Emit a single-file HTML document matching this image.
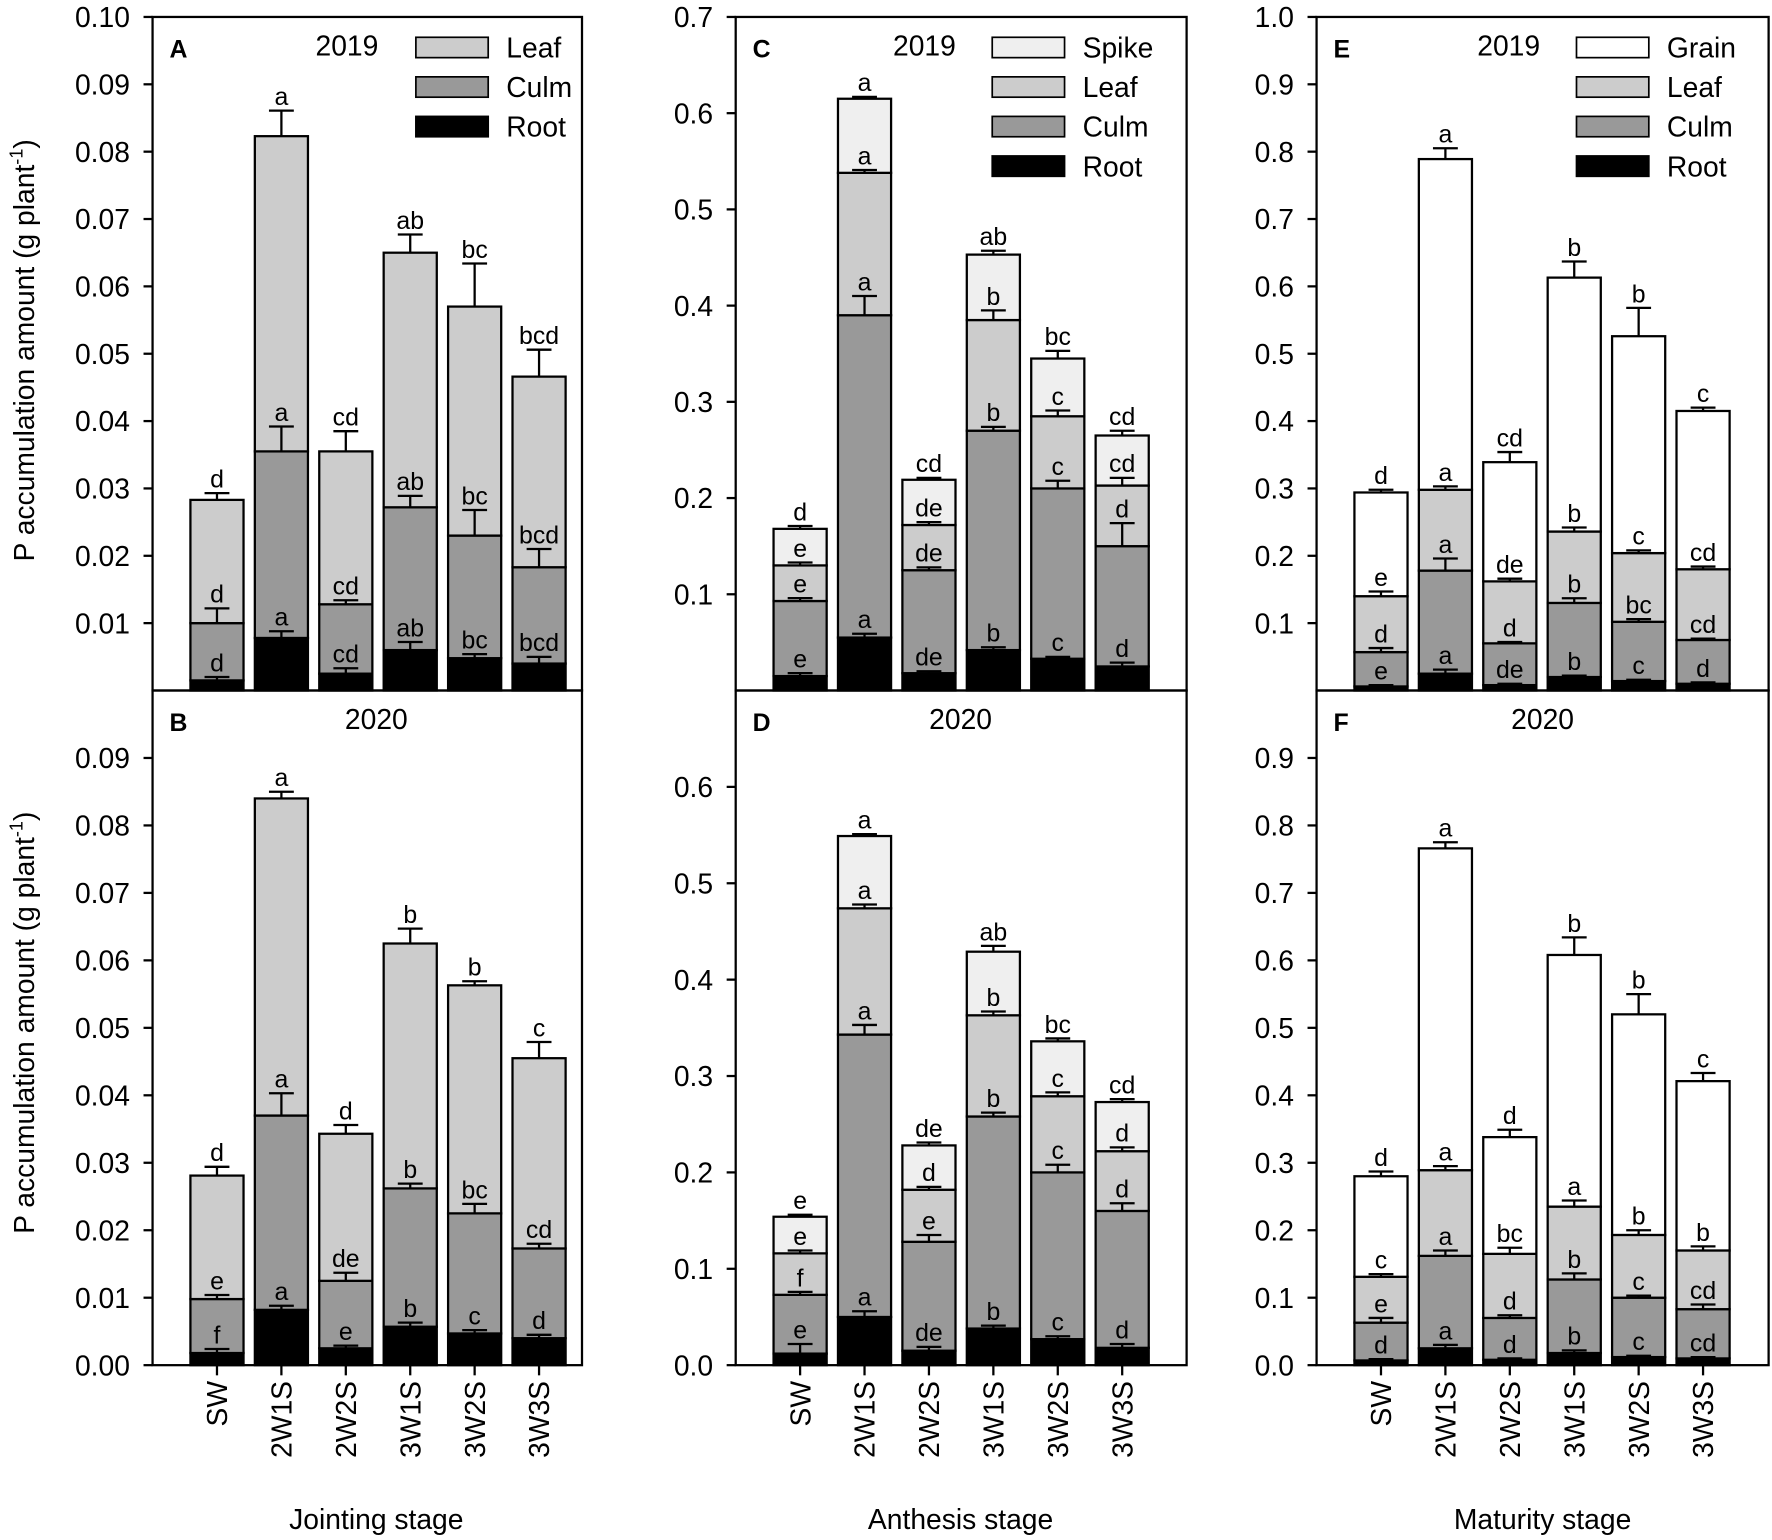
<!DOCTYPE html>
<html><head><meta charset="utf-8"><style>html,body{margin:0;padding:0;background:#fff}svg{display:block}text{font-family:"Liberation Sans",Arial,sans-serif}</style></head>
<body>
<svg id="fig" width="1772" height="1540" viewBox="0 0 1568 1362.7" xmlns="http://www.w3.org/2000/svg">
<text transform="translate(30,310) rotate(-90)" text-anchor="middle" font-size="25">P accumulation amount (g plant<tspan dy="-10" font-size="16">-1</tspan><tspan dy="10">)</tspan></text>
<text transform="translate(30,905) rotate(-90)" text-anchor="middle" font-size="25">P accumulation amount (g plant<tspan dy="-10" font-size="16">-1</tspan><tspan dy="10">)</tspan></text>
<text x="333" y="1353" text-anchor="middle" font-size="25">Jointing stage</text>
<text x="850" y="1353" text-anchor="middle" font-size="25">Anthesis stage</text>
<text x="1365" y="1353" text-anchor="middle" font-size="25">Maturity stage</text>
</svg>
<script>
const cats=["SW","2W1S","2W2S","3W1S","3W2S","3W3S"];
// Panel A (2019 jointing) cumulative tops
const aRoot=[0.0015,0.0078,0.0025,0.006,0.0048,0.004];
const aRootErr=[0.0005,0.001,0.0008,0.0012,0.0006,0.001];
const aRootLet=["d","a","cd","ab","bc","bcd"];
const aCulm=[0.010,0.0355,0.0128,0.0272,0.023,0.0183];
const aCulmErr=[0.0022,0.0037,0.0006,0.0017,0.0038,0.0027];
const aCulmLet=["d","a","cd","ab","bc","bcd"];
const aLeaf=[0.0283,0.0823,0.0355,0.065,0.057,0.0466];
const aLeafErr=[0.001,0.0038,0.003,0.0027,0.0064,0.004];
const aLeafLet=["d","a","cd","ab","bc","bcd"];
const aTicks=[0.01,0.02,0.03,0.04,0.05,0.06,0.07,0.08,0.09,0.10];
// Panel B (2020 jointing)
const bRoot=[0.0018,0.0082,0.0025,0.0057,0.0047,0.004];
const bRootErr=[0.0006,0.0006,0.0004,0.0006,0.0005,0.0005];
const bRootLet=["f","a","e","b","c","d"];
const bCulm=[0.0098,0.037,0.0125,0.0262,0.0225,0.0173];
const bCulmErr=[0.0006,0.0033,0.0012,0.0007,0.0014,0.0007];
const bCulmLet=["e","a","de","b","bc","cd"];
const bLeaf=[0.0281,0.084,0.0343,0.0625,0.0563,0.0455];
const bLeafErr=[0.0013,0.001,0.0013,0.0022,0.0006,0.0024];
const bLeafLet=["d","a","d","b","b","c"];
const bTicks=[0,0.01,0.02,0.03,0.04,0.05,0.06,0.07,0.08,0.09];
// Panel C (2019 anthesis)
const cRoot=[0.015,0.055,0.018,0.042,0.033,0.025];
const cRootErr=[0.003,0.004,0.002,0.003,0.002,0.004];
const cRootLet=["e","a","de","b","c","d"];
const cCulm=[0.093,0.39,0.125,0.27,0.21,0.15];
const cCulmErr=[0.003,0.02,0.003,0.004,0.008,0.024];
const cCulmLet=["e","a","de","b","c","d"];
const cLeaf=[0.13,0.538,0.172,0.385,0.285,0.213];
const cLeafErr=[0.003,0.003,0.003,0.01,0.006,0.008];
const cLeafLet=["e","a","de","b","c","cd"];
const cSpike=[0.168,0.615,0.219,0.453,0.345,0.265];
const cSpikeErr=[0.003,0.002,0.002,0.004,0.008,0.005];
const cSpikeLet=["d","a","cd","ab","bc","cd"];
const cTicks=[0.1,0.2,0.3,0.4,0.5,0.6,0.7];
// Panel D (2020 anthesis)
const dRoot=[0.012,0.05,0.015,0.038,0.027,0.018];
const dRootErr=[0.01,0.006,0.004,0.003,0.003,0.004];
const dRootLet=["e","a","de","b","c","d"];
const dCulm=[0.073,0.343,0.128,0.258,0.2,0.16];
const dCulmErr=[0.003,0.01,0.007,0.004,0.008,0.008];
const dCulmLet=["f","a","e","b","c","d"];
const dLeaf=[0.116,0.474,0.182,0.363,0.279,0.222];
const dLeafErr=[0.003,0.004,0.003,0.004,0.004,0.004];
const dLeafLet=["e","a","d","b","c","d"];
const dSpike=[0.154,0.549,0.228,0.429,0.336,0.273];
const dSpikeErr=[0.002,0.002,0.003,0.006,0.003,0.003];
const dSpikeLet=["e","a","de","ab","bc","cd"];
const dTicks=[0,0.1,0.2,0.3,0.4,0.5,0.6];
// Panel E (2019 maturity)
const eRoot=[0.006,0.025,0.008,0.02,0.014,0.01];
const eRootErr=[0.002,0.006,0.002,0.002,0.002,0.002];
const eRootLet=["e","a","de","b","c","d"];
const eCulm=[0.057,0.178,0.07,0.13,0.102,0.075];
const eCulmErr=[0.006,0.018,0.002,0.007,0.004,0.002];
const eCulmLet=["d","a","d","b","bc","cd"];
const eLeaf=[0.14,0.298,0.162,0.236,0.204,0.18];
const eLeafErr=[0.007,0.005,0.004,0.006,0.004,0.004];
const eLeafLet=["e","a","de","b","c","cd"];
const eGrain=[0.294,0.789,0.339,0.613,0.526,0.415];
const eGrainErr=[0.004,0.016,0.015,0.024,0.042,0.005];
const eGrainLet=["d","a","cd","b","b","c"];
const eTicks=[0.1,0.2,0.3,0.4,0.5,0.6,0.7,0.8,0.9,1.0];
// Panel F (2020 maturity)
const fRoot=[0.007,0.025,0.008,0.018,0.012,0.01];
const fRootErr=[0.002,0.005,0.002,0.004,0.002,0.002];
const fRootLet=["d","a","d","b","c","cd"];
const fCulm=[0.063,0.162,0.07,0.127,0.1,0.083];
const fCulmErr=[0.007,0.008,0.004,0.009,0.003,0.007];
const fCulmLet=["e","a","d","b","c","cd"];
const fLeaf=[0.131,0.289,0.165,0.235,0.193,0.17];
const fLeafErr=[0.004,0.006,0.009,0.009,0.007,0.006];
const fLeafLet=["c","a","bc","a","b","b"];
const fGrain=[0.28,0.766,0.338,0.608,0.52,0.421];
const fGrainErr=[0.007,0.009,0.011,0.026,0.03,0.012];
const fGrainLet=["d","a","d","b","b","c"];
const fTicks=[0,0.1,0.2,0.3,0.4,0.5,0.6,0.7,0.8,0.9];

const NS="http://www.w3.org/2000/svg";
const svg=document.getElementById('fig');
function mk(tag,attrs,parent){const e=document.createElementNS(NS,tag);for(const k in attrs)e.setAttribute(k,attrs[k]);(parent||svg).appendChild(e);return e;}
const FILL={Root:"#000",Culm:"#999",Leaf:"#ccc",Spike:"#efefef",Grain:"#fff"};

function panel(cfg){
  const g=mk('g',{});
  
  
  const L=cfg.left,R=cfg.right,T=cfg.top,B=cfg.bottom;
  const y=v=>B-(v/cfg.max)*(B-T);
  const x=i=>L+57+i*57;
  const bw=47;
  cfg.layers.forEach((ly,li)=>{
    ly.tops.forEach((t,i)=>{
      const base=li===0?0:cfg.layers[li-1].tops[i];
      const r=mk('rect',{x:x(i)-bw/2,y:y(t),width:bw,height:y(base)-y(t),fill:FILL[ly.name],stroke:"#000","stroke-width":2},g);
      
      
    });
  });
  cfg.layers.forEach((ly,li)=>{
    ly.tops.forEach((t,i)=>{
      const e=ly.errs[i];
      const p=mk('path',{d:`M${x(i)} ${y(t)}V${y(t+e)}M${x(i)-11} ${y(t+e)}H${x(i)+11}`,stroke:"#000","stroke-width":2,fill:"none"},g);
      
      
      const tx=mk('text',{x:x(i),y:y(t+e)-5,"text-anchor":"middle","font-size":22},g);
      tx.textContent=ly.lets[i];
      
      
    });
  });
  const fr=mk('rect',{x:L,y:T,width:R-L,height:B-T,fill:"none",stroke:"#000","stroke-width":2},g);
  
  
  cfg.ticks.forEach(v=>{
    const ln=mk('line',{x1:L-8,x2:L,y1:y(v),y2:y(v),stroke:"#000","stroke-width":2},g);
    
    
    const t=mk('text',{x:L-20,y:y(v)+9,"text-anchor":"end","font-size":25},g);
    t.textContent=v.toFixed(cfg.dec);
    
    
  });
  if(cfg.xlabels){
    cats.forEach((c,i)=>{
      const ln=mk('line',{x1:x(i),x2:x(i),y1:B,y2:B+9,stroke:"#000","stroke-width":2},g);
      
      
      const t=mk('text',{transform:`translate(${x(i)+9},${B+14}) rotate(-90)`,"text-anchor":"end","font-size":25},g);
      t.textContent=c;
      
      
    });
  }
  const pl=mk('text',{x:L+15,y:T+36,"font-size":22,"font-weight":"bold"},g);
  pl.textContent=cfg.id;
  
  
  const yr=mk('text',{x:cfg.yearX,y:T+34,"text-anchor":"middle","font-size":25},g);
  yr.textContent=cfg.year;
  
  
  if(cfg.legend){
    const names=cfg.layers.map(l=>l.name).reverse();
    names.forEach((n,k)=>{
      const yy=T+27+k*35;
      const r=mk('rect',{x:cfg.legendX,y:yy-9,width:64,height:18,fill:FILL[n],stroke:"#000","stroke-width":1.5},g);
      
      
      const t=mk('text',{x:cfg.legendX+80,y:yy+9,"font-size":25},g);
      t.textContent=n;
      
      
    });
  }
}
const L3=(n,t,e,l)=>({name:n,tops:t,errs:e,lets:l});
panel({id:"A",year:"2019",yearX:307,left:135,right:515,top:15,bottom:611,max:0.1,dec:2,ticks:aTicks,legend:true,legendX:368,
  layers:[L3("Root",aRoot,aRootErr,aRootLet),L3("Culm",aCulm,aCulmErr,aCulmLet),L3("Leaf",aLeaf,aLeafErr,aLeafLet)]});
panel({id:"B",year:"2020",yearX:333,left:135,right:515,top:611,bottom:1208,max:0.1,dec:2,ticks:bTicks,xlabels:true,
  layers:[L3("Root",bRoot,bRootErr,bRootLet),L3("Culm",bCulm,bCulmErr,bCulmLet),L3("Leaf",bLeaf,bLeafErr,bLeafLet)]});
panel({id:"C",year:"2019",yearX:818,left:651,right:1050,top:15,bottom:611,max:0.7,dec:1,ticks:cTicks,legend:true,legendX:878,
  layers:[L3("Root",cRoot,cRootErr,cRootLet),L3("Culm",cCulm,cCulmErr,cCulmLet),L3("Leaf",cLeaf,cLeafErr,cLeafLet),L3("Spike",cSpike,cSpikeErr,cSpikeLet)]});
panel({id:"D",year:"2020",yearX:850,left:651,right:1050,top:611,bottom:1208,max:0.7,dec:1,ticks:dTicks,xlabels:true,
  layers:[L3("Root",dRoot,dRootErr,dRootLet),L3("Culm",dCulm,dCulmErr,dCulmLet),L3("Leaf",dLeaf,dLeafErr,dLeafLet),L3("Spike",dSpike,dSpikeErr,dSpikeLet)]});
panel({id:"E",year:"2019",yearX:1335,left:1165,right:1565,top:15,bottom:611,max:1.0,dec:1,ticks:eTicks,legend:true,legendX:1395,
  layers:[L3("Root",eRoot,eRootErr,eRootLet),L3("Culm",eCulm,eCulmErr,eCulmLet),L3("Leaf",eLeaf,eLeafErr,eLeafLet),L3("Grain",eGrain,eGrainErr,eGrainLet)]});
panel({id:"F",year:"2020",yearX:1365,left:1165,right:1565,top:611,bottom:1208,max:1.0,dec:1,ticks:fTicks,xlabels:true,
  layers:[L3("Root",fRoot,fRootErr,fRootLet),L3("Culm",fCulm,fCulmErr,fCulmLet),L3("Leaf",fLeaf,fLeafErr,fLeafLet),L3("Grain",fGrain,fGrainErr,fGrainLet)]});
</script>
</body></html>
